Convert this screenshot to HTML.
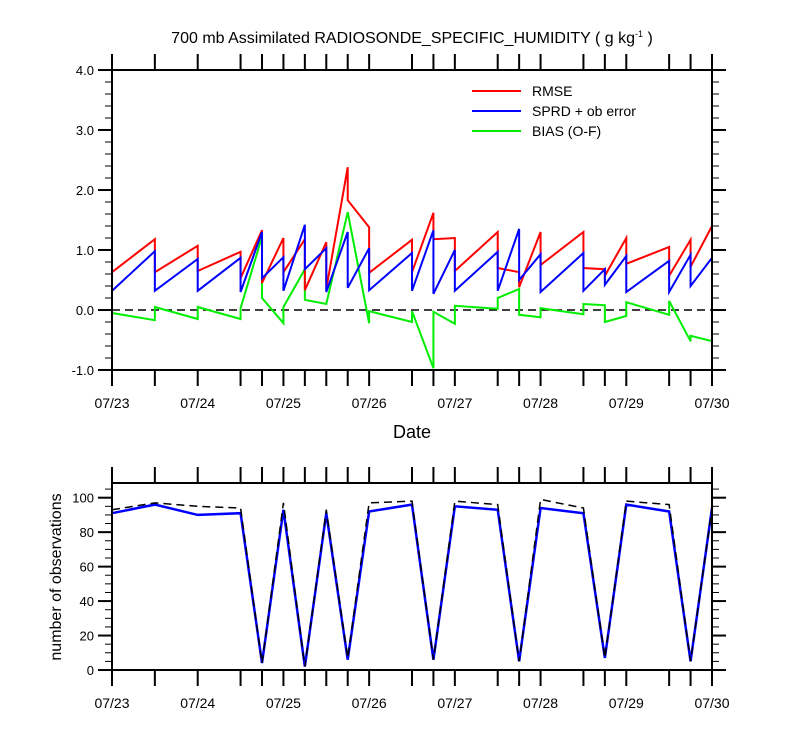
<!DOCTYPE html>
<html><head><meta charset="utf-8"><style>
body{margin:0;background:#fff}
svg{display:block;font-family:"Liberation Sans",sans-serif}
</style></head><body>
<svg id="chart" width="800" height="750" viewBox="0 0 800 750" xmlns="http://www.w3.org/2000/svg">
<text x="412" y="43" text-anchor="middle" font-size="16">700 mb Assimilated RADIOSONDE_SPECIFIC_HUMIDITY ( g kg<tspan dy="-6" font-size="9">-1</tspan><tspan dy="6"> )</tspan></text>
<g id="topPanel"></g>
<g id="botPanel"></g>
<text x="412" y="438" text-anchor="middle" font-size="18">Date</text>
<text transform="translate(61,577) rotate(-90)" text-anchor="middle" font-size="16">number of observations</text>
<g>
<line x1="472" y1="91" x2="521" y2="91" stroke="#ff0000" stroke-width="2"/>
<text x="532" y="96" font-size="14">RMSE</text>
<line x1="472" y1="111" x2="521" y2="111" stroke="#0000ff" stroke-width="2"/>
<text x="532" y="116" font-size="14">SPRD + ob error</text>
<line x1="472" y1="131" x2="521" y2="131" stroke="#00ee00" stroke-width="2"/>
<text x="532" y="136" font-size="14">BIAS (O-F)</text>
</g>
</svg>
<script>
const times = [0,0.5,1,1.5,1.75,2,2.25,2.5,2.75,3,3.5,3.75,4,4.5,4.75,5,5.5,5.75,6,6.5,6.75,7];
const dateLabels = ["07/23","07/24","07/25","07/26","07/27","07/28","07/29","07/30"];
const rmseIn   = [1.28,1.18,1.07,0.97,1.33,1.2,1.18,1.13,2.38,1.38,1.17,1.62,1.2,1.3,0.63,1.3,1.3,0.68,1.2,1.05,1.17,1.4];
const rmseOut  = [0.63,0.63,0.65,0.53,0.45,0.63,0.33,0.35,1.83,0.62,0.63,1.18,0.65,0.7,0.38,0.75,0.7,0.57,0.77,0.57,0.72,1.4];
const sprdIn   = [0.95,0.98,0.85,0.87,1.3,0.88,1.42,1.03,1.3,1.03,0.95,1.33,1.0,0.97,1.35,0.93,0.95,0.68,0.9,0.82,0.92,0.87];
const sprdOut  = [0.32,0.32,0.32,0.3,0.53,0.32,0.68,0.3,0.37,0.33,0.32,0.27,0.32,0.32,0.5,0.3,0.32,0.42,0.3,0.3,0.4,0.87];
const biasIn   = [-0.25,-0.17,-0.15,-0.15,1.22,-0.22,0.68,0.1,1.63,-0.22,-0.2,-0.97,-0.23,0.02,0.35,-0.12,-0.07,0.08,-0.1,-0.08,-0.52,-0.52];
const biasOut  = [-0.05,0.05,0.05,0.03,0.2,0.05,0.17,0.1,1.63,-0.02,-0.02,-0.03,0.07,0.2,-0.08,0.03,0.1,-0.2,0.13,0.15,-0.43,-0.52];
const obsTotal = [93,97,95,94,4,97,2,93,7,97,98,6,98,96,5,99,94,7,98,96,5,94];
const obsUsed  = [91,96,90,91,4,93,2,91,6,92,96,6,95,93,5,94,91,7,96,92,5,94];
const topYTicks = ["-1.0","0.0","1.0","2.0","3.0","4.0"];
const botYTicks = ["0","20","40","60","80","100"];

const NS="http://www.w3.org/2000/svg";
function mk(tag,attrs,parent){const e=document.createElementNS(NS,tag);for(const k in attrs)e.setAttribute(k,attrs[k]);parent.appendChild(e);return e;}
const X0=112,X1=712;
const xs=t=>X0+t*(X1-X0)/7;
const yTop=v=>310-v*60;
const yBot=v=>670-v*1.723;

function frame(g,top,bottom,name){
  const r=mk('rect',{x:X0,y:top,width:X1-X0,height:bottom-top,fill:'none',stroke:'#000','stroke-width':2},g);
  
  
  times.forEach(t=>{
    const x=xs(t);
    const a=mk('line',{x1:x,y1:top,x2:x,y2:top-16,stroke:'#000','stroke-width':2},g);
    
    
    const b=mk('line',{x1:x,y1:bottom,x2:x,y2:bottom+16,stroke:'#000','stroke-width':2},g);
    
    
  });
  dateLabels.forEach((d,i)=>{
    const tx=mk('text',{x:xs(i),y:bottom+38,'text-anchor':'middle','font-size':14},g);
    tx.textContent=d;
    
    
  });
}
function yticks(g,labels,vmin,step,minorStep,vmax,yf){
  for(let v=vmin;v<=vmax+1e-9;v+=minorStep){
    const y=yf(v);const major=Math.abs((v-vmin)/step-Math.round((v-vmin)/step))<1e-6;
    const L=major?14:7;
    const l=mk('line',{x1:X0,y1:y,x2:X0-L,y2:y,stroke:'#000','stroke-width':major?2:1},g);
    
    
    const r=mk('line',{x1:X1,y1:y,x2:X1+L,y2:y,stroke:'#000','stroke-width':major?2:1},g);
    
    
  }
  labels.forEach((s,i)=>{
    const tx=mk('text',{x:X0-18,y:yf(vmin+i*step)+5,'text-anchor':'end','font-size':13},g);
    tx.textContent=s;
    
    
  });
}
function stepPath(inV,outV){
  let d='';
  times.forEach((t,i)=>{
    d+=(i?'L':'M')+xs(t)+','+yTop(inV[i]);
    d+='L'+xs(t)+','+yTop(outV[i]);
  });
  return d;
}
const topG=document.getElementById('topPanel');
const botG=document.getElementById('botPanel');
yticks(topG,topYTicks,-1,1,0.2,4,yTop);
const zl=mk('line',{x1:X0,y1:yTop(0),x2:X1,y2:yTop(0),stroke:'#000','stroke-width':1.5,'stroke-dasharray':'8,5'},topG);


const pb=mk('path',{d:stepPath(biasIn,biasOut),fill:'none',stroke:'#00ee00','stroke-width':2},topG);


const pr=mk('path',{d:stepPath(rmseIn,rmseOut),fill:'none',stroke:'#ff0000','stroke-width':2},topG);


const ps=mk('path',{d:stepPath(sprdIn,sprdOut),fill:'none',stroke:'#0000ff','stroke-width':2},topG);


frame(topG,70,370,'stats');

yticks(botG,botYTicks,0,20,5,105,yBot);
const lp=arr=>times.map((t,i)=>(i?'L':'M')+xs(t)+','+yBot(arr[i])).join('');
const pu=mk('path',{d:lp(obsUsed),fill:'none',stroke:'#0000ff','stroke-width':2.5},botG);


const pt=mk('path',{d:lp(obsTotal),fill:'none',stroke:'#000','stroke-width':1.5,'stroke-dasharray':'8,5'},botG);


frame(botG,483,670,'obs');
</script>
</body></html>
